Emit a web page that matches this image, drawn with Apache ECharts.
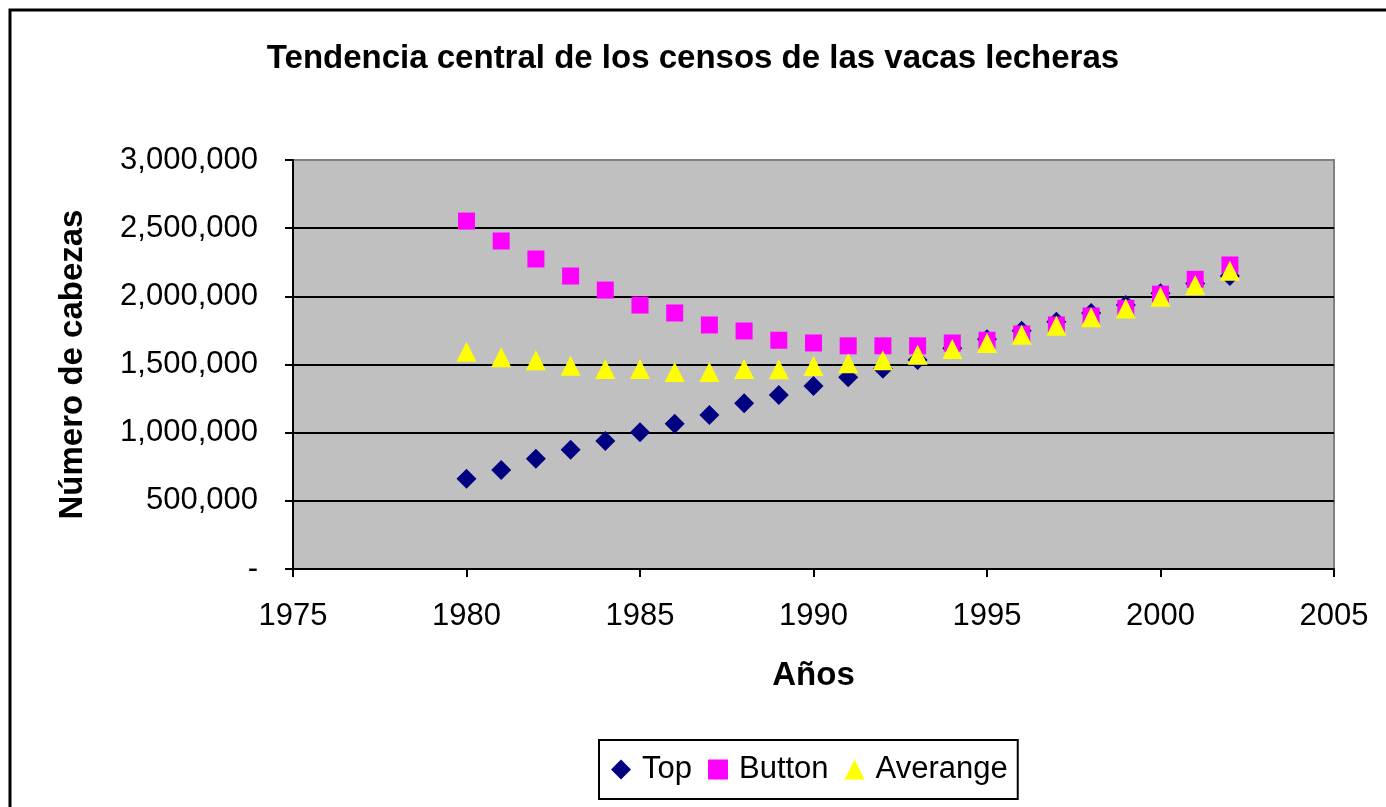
<!DOCTYPE html>
<html>
<head>
<meta charset="utf-8">
<script src="https://cdn.jsdelivr.net/npm/echarts@6/dist/echarts.min.js"></script>
<style>
	html, body { margin: 0; padding: 0; background: #fff; }
	#chart { width: 1386px; height: 807px; }
</style>
</head>
<body>
<div id="chart"></div>
<script>
// datos
var years = [1980, 1981, 1982, 1983, 1984, 1985, 1986, 1987, 1988, 1989, 1990, 1991,
	1992, 1993, 1994, 1995, 1996, 1997, 1998, 1999, 2000, 2001, 2002]
var topVals = [662000, 726000, 809000, 875000, 939000, 1003000, 1066000, 1130000, 1215000, 1276000,
	1342000, 1406000, 1469000, 1533000, 1619000, 1685000, 1748000, 1814000, 1877000, 1936000,
	2022000, 2095000, 2149000]
var buttonVals = [2552000, 2406000, 2274000, 2149000, 2046000, 1936000, 1878000, 1790000, 1746000, 1678000,
	1658000, 1637000, 1637000, 1637000, 1658000, 1678000, 1724000, 1790000, 1856000, 1912000,
	2016000, 2125000, 2230000]
var avgVals = [1594000, 1554000, 1531000, 1490000, 1467000, 1467000, 1445000, 1445000, 1467000, 1466000,
	1489000, 1509000, 1531000, 1572000, 1614000, 1658000, 1719000, 1784000, 1847000, 1911000,
	1997000, 2083000, 2188000]
var seriesNames = ['Top', 'Button', 'Averange']

var font = "'Liberation Sans', Arial, sans-serif"

function pairs(vals) {
	return years.map(function(y, i) { return [y, vals[i]] })
}

var chart = echarts.init(document.getElementById('chart'))

var option = {
	animation: false,
	backgroundColor: '#fff',
	textStyle: { fontFamily: font },
	title: {
		text: 'Tendencia central de los censos de las vacas lecheras',
		left: 'center',
		top: 37,
		textStyle: { fontFamily: font, fontSize: 33, fontWeight: 'bold', color: '#000' }
	},
	graphic: [{
		type: 'rect',
		shape: { x: 10, y: 10, width: 1400, height: 820 },
		style: { fill: 'none', stroke: '#000', lineWidth: 3 },
		silent: true
	}],
	legend: {
		data: seriesNames,
		left: 599,
		top: 740,
		padding: [14, 10, 14, 12],
		itemGap: 16,
		itemWidth: 20,
		itemHeight: 20,
		borderColor: '#000',
		borderWidth: 2,
		textStyle: { fontFamily: font, fontSize: 31, color: '#000', padding: [0, 0, 0, 6] }
	},
	grid: {
		left: 293,
		top: 160,
		right: 52,
		bottom: 238,
		show: true,
		backgroundColor: '#C0C0C0',
		borderColor: '#808080',
		borderWidth: 2
	},
	xAxis: {
		type: 'value',
		min: 1975,
		max: 2005,
		interval: 5,
		name: 'Años',
		nameLocation: 'middle',
		nameGap: 90,
		nameTextStyle: { fontFamily: font, fontSize: 33, fontWeight: 'bold', color: '#000' },
		axisLine: { show: true, lineStyle: { color: '#000', width: 2 } },
		axisTick: { show: true, length: 8, lineStyle: { color: '#000', width: 2 } },
		axisLabel: { margin: 32, fontSize: 31, color: '#000', fontFamily: font, formatter: function(v) { return String(v) } },
		splitLine: { show: false }
	},
	yAxis: {
		type: 'value',
		min: 0,
		max: 3000000,
		interval: 500000,
		name: 'Número de cabezas',
		nameLocation: 'middle',
		nameGap: 204,
		nameTextStyle: { fontFamily: font, fontSize: 33, fontWeight: 'bold', color: '#000' },
		axisLine: { show: true, lineStyle: { color: '#000', width: 2 } },
		axisTick: { show: true, length: 8, lineStyle: { color: '#000', width: 2 } },
		axisLabel: {
			margin: 35, fontSize: 31, color: '#000', fontFamily: font,
			formatter: function(v) { return v === 0 ? '-' : v.toLocaleString('en-US') }
		},
		splitLine: { show: true, showMinLine: false, showMaxLine: false, lineStyle: { color: '#000', width: 2 } }
	},
	series: [{
		name: 'Top',
		type: 'scatter',
		symbol: 'diamond',
		symbolSize: 20,
		itemStyle: { color: '#000080', opacity: 1 },
		data: pairs(topVals)
	}, {
		name: 'Button',
		type: 'scatter',
		symbol: 'rect',
		symbolSize: 17,
		itemStyle: { color: '#FF00FF', opacity: 1 },
		data: pairs(buttonVals)
	}, {
		name: 'Averange',
		type: 'scatter',
		symbol: 'triangle',
		symbolSize: [20, 20],
		itemStyle: { color: '#FFFF00', opacity: 1 },
		data: pairs(avgVals)
	}]
}

chart.setOption(option)
</script>
</body>
</html>
